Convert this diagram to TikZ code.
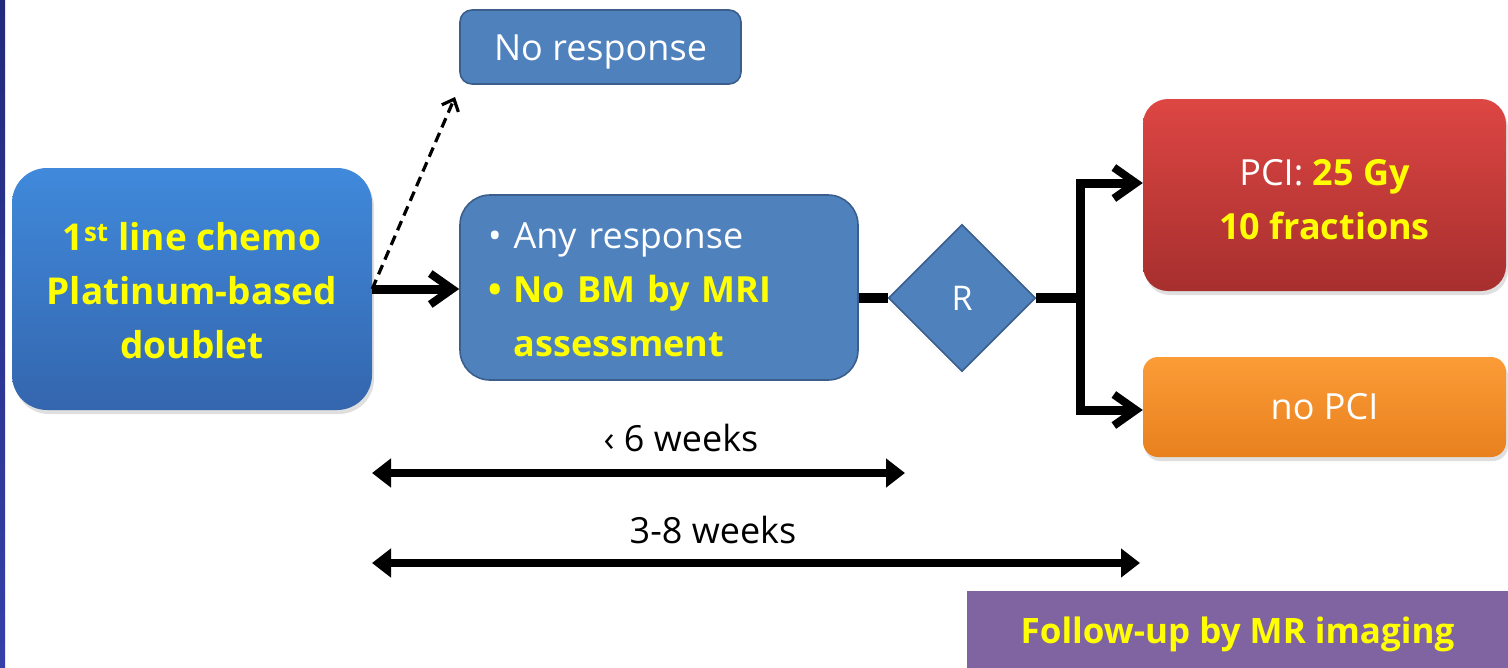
\documentclass[tikz,border=0pt]{standalone}
\usepackage{fontspec}
\setmainfont{Open Sans}
\usetikzlibrary{arrows.meta,shapes.geometric,shadows}

\definecolor{navytop}{HTML}{232A7C}
\definecolor{navybot}{HTML}{3540A8}
\definecolor{chemotop}{HTML}{4089DB}
\definecolor{chemobot}{HTML}{3466AE}
\definecolor{steel}{HTML}{4F81BD}
\definecolor{steelrim}{HTML}{3B5E8C}
\definecolor{pcitop}{HTML}{DD4643}
\definecolor{pcibot}{HTML}{A62F2E}
\definecolor{ortop}{HTML}{FB9C37}
\definecolor{orbot}{HTML}{E8801E}
\definecolor{purplebar}{HTML}{8064A2}
\definecolor{hiyellow}{HTML}{FFFF00}

% invisible strut that pushes a node's text down
\newcommand{\dropstrut}[1]{\rule{0pt}{#1}}

\tikzset{
  boxtext/.style={font=\fontsize{36}{54}\selectfont, align=center, inner sep=0pt},
  glossy/.style={rounded corners=#1, drop shadow={shadow xshift=2pt, shadow yshift=-4pt, opacity=0.25}},
  flatbox/.style={fill=steel, draw=steelrim, line width=1.6pt, rounded corners=#1},
  thickline/.style={line width=10pt},
  flow/.style={line width=9pt, -{Straight Barb[length=22pt, width=31pt, line width=8pt]}},
  span/.style={line width=8pt, {Triangle[length=19pt, width=28pt]}-{Triangle[length=19pt, width=28pt]}},
  hint/.style={line width=3.2pt, dash pattern=on 10pt off 6pt, -{Straight Barb[length=10pt, width=18pt, line width=3.2pt]}},
  weeks/.style={font=\fontsize{36}{40}\selectfont, text=black, inner sep=0pt}
}

\begin{document}
\begin{tikzpicture}[x=1pt, y=-1pt]
\useasboundingbox (0,0) rectangle (1508,667);
\fill[white] (0,0) rectangle (1508,667);
% dark edge along the left side
\shade[top color=navytop, bottom color=navybot] (0,0) rectangle (5,667);

% first-line treatment
\node[boxtext, glossy=35pt, top color=chemotop, bottom color=chemobot,
      minimum width=360pt, minimum height=242pt, text=hiyellow, font=\fontsize{37}{54}\selectfont\bfseries]
  (chemo) at (192,289) {\dropstrut{31pt}1\textsuperscript{st} line chemo\\Platinum-based\\doublet};

% no response outcome
\node[boxtext, flatbox=12pt, minimum width=281pt, minimum height=74pt, text=white]
  (nores) at (600.5,47) {\dropstrut{36pt}No response};

% response outcome
\node[boxtext, flatbox=30pt, minimum width=398pt, minimum height=185pt,
      align=left, text width=342pt, inner xsep=28pt, text=white]
  (resp) at (659,287.5)
  {\dropstrut{30pt}\textbullet\ Any response\\
   {\color{hiyellow}\bfseries\textbullet\ No BM by MRI}\\
   {\color{hiyellow}\bfseries\hphantom{\textbullet\ }assessment}};

% randomisation
\node[diamond, aspect=1, fill=steel, draw=steelrim, line width=1.6pt,
      minimum width=147pt, minimum height=147pt, inner sep=0pt,
      text=white, font=\fontsize{34}{40}\selectfont]
  (rand) at (962,298) {R};

% study arms
\node[boxtext, glossy=25pt, top color=pcitop, bottom color=pcibot,
      minimum width=363pt, minimum height=192pt, text=white]
  (pci) at (1324.5,195) {\dropstrut{36pt}PCI: {\color{hiyellow}\bfseries 25 Gy}\\{\color{hiyellow}\bfseries 10 fractions}};
\node[boxtext, glossy=15pt, top color=ortop, bottom color=orbot,
      minimum width=363pt, minimum height=100pt, text=white]
  (nopci) at (1324.5,407) {no PCI};

% follow-up banner
\node[boxtext, fill=purplebar, minimum width=541pt, minimum height=78pt,
      text=hiyellow, font=\fontsize{35}{40}\selectfont\bfseries]
  (follow) at (1237.5,630) {\dropstrut{36pt}Follow-up by MR imaging};

% connectors
\coordinate (split) at (1080,298);
\coordinate (hintend) at (455,97);
\draw[flow] (chemo.east) -- (chemo.east -| resp.west);
\draw[hint] (chemo.east) -- (hintend);
\draw[thickline] (resp.east |- rand.west) -- (rand.west);
\draw[thickline] (rand.east) -- (split);
\draw[flow] (split) |- ([yshift=12pt]pci.west);
\draw[flow] (split) |- ([yshift=-3pt]nopci.west);

% time windows
\coordinate (s1a) at (372,473);
\coordinate (s1b) at (905,473);
\coordinate (s2a) at (372,563);
\coordinate (s2b) at (1140,563);
\draw[span] (s1a) -- (s1b);
\draw[span] (s2a) -- (s2b);
\node[weeks] (lbl1) at (681,438) {‹ 6 weeks};
\node[weeks] (lbl2) at (713,530) {3-8 weeks};
\end{tikzpicture}
\end{document}
